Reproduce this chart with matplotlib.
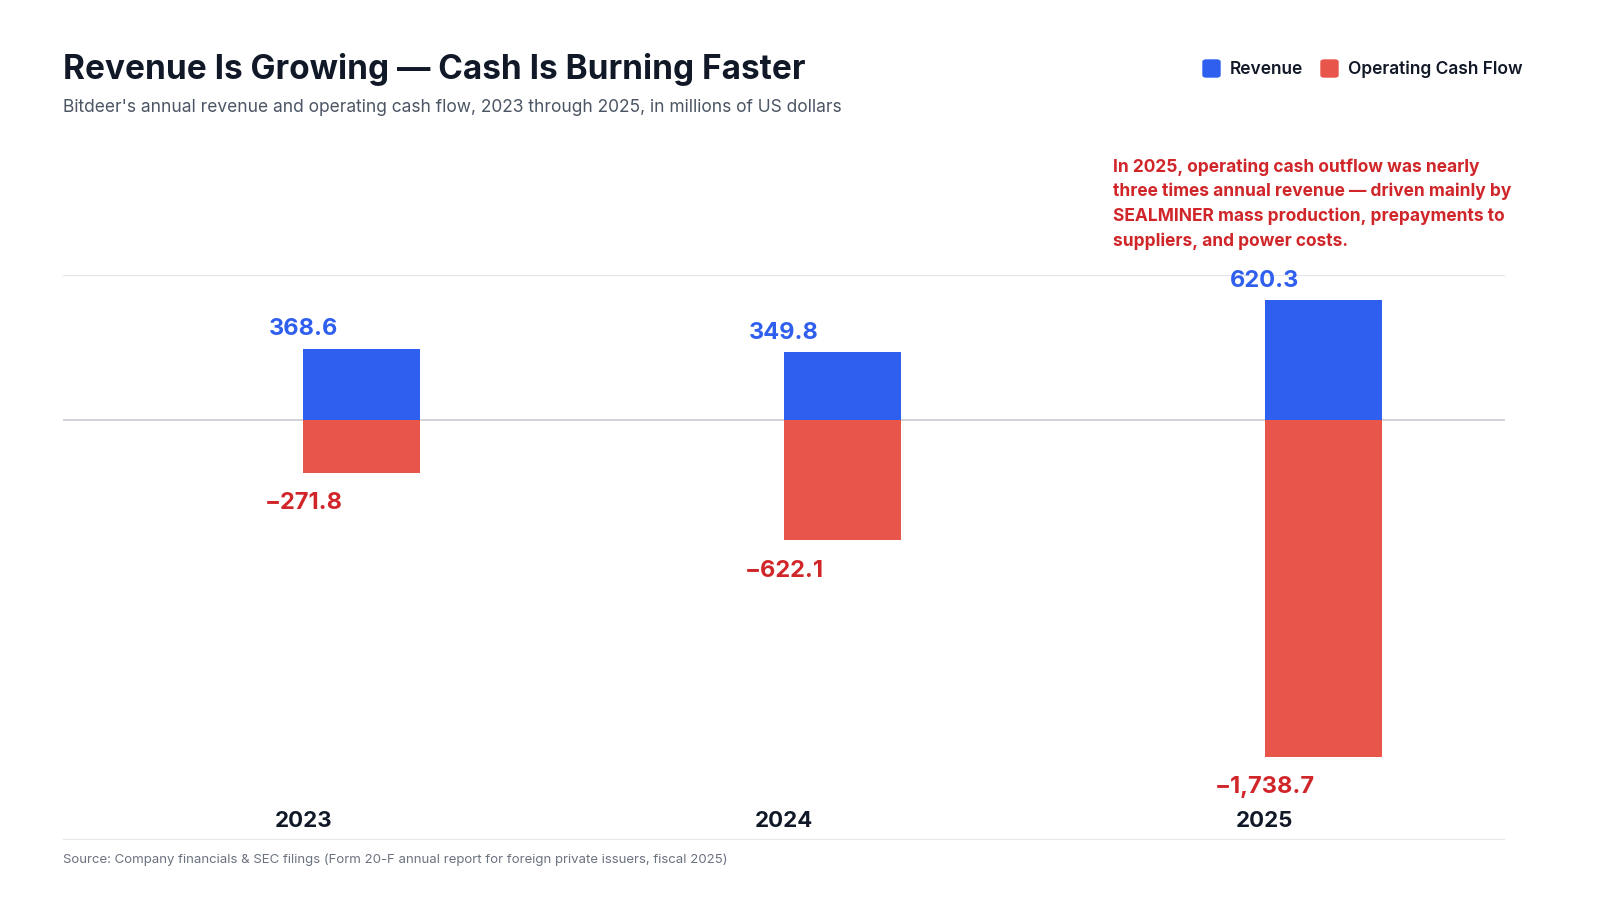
import matplotlib
matplotlib.use("Agg")
import matplotlib.pyplot as plt
from matplotlib.patches import FancyBboxPatch

years = ["2023", "2024", "2025"]
revenue = [368.6, 349.8, 620.3]
cash_flow = [-271.8, -622.1, -1738.7]
rev_labels = ["368.6", "349.8", "620.3"]
cf_labels = ["\u2212271.8", "\u2212622.1", "\u22121,738.7"]

plt.rcParams['font.family'] = ['Inter', 'DejaVu Sans']
BLUE = "#2F5FEF"
RED = "#E8554A"
RED_TXT = "#D0262A"
DARK = "#111827"

fig = plt.figure(figsize=(16, 9), dpi=100)
ax = fig.add_axes([63/1600, 60/900, (1505-63)/1600, (840-275)/900])
ax.set_xlim(-0.5, 2.5)
ax.set_ylim(-2170, 749)
w = 117/481
x = list(range(len(years)))
ax.bar(x, revenue, width=w, align='edge', color=BLUE, zorder=3)
ax.bar(x, cash_flow, width=w, align='edge', color=RED, zorder=3)
for i in x:
    ax.annotate(rev_labels[i], (i, revenue[i]), xytext=(0, 6), textcoords='offset points',
                ha='center', va='bottom', fontsize=17, fontweight='bold', color=BLUE)
    ax.annotate(cf_labels[i], (i, cash_flow[i]), xytext=(0, -14), textcoords='offset points',
                ha='center', va='top', fontsize=17, fontweight='bold', color=RED_TXT)
    ax.text(i, -2070, years[i], ha='center', va='center', fontsize=16, fontweight='bold', color=DARK)
ax.axhline(0, color="#C8CCD2", lw=1.2, zorder=2)
ax.axhline(749, color="#E5E7EB", lw=1, zorder=1)
ax.axhline(-2170, color="#E5E7EB", lw=1.5, zorder=1)
for s in ax.spines.values():
    s.set_visible(False)
ax.set_xticks([]); ax.set_yticks([])

fig.text(63/1600, 1-70/900, "Revenue Is Growing \u2014 Cash Is Burning Faster", fontsize=24,
         fontweight='bold', color=DARK, va='center')
fig.text(63/1600, 1-108/900, "Bitdeer's annual revenue and operating cash flow, 2023 through 2025, in millions of US dollars",
         fontsize=12.5, color="#4B5563", va='center')
fig.text(1113/1600, 1-158/900,
         "In 2025, operating cash outflow was nearly\nthree times annual revenue \u2014 driven mainly by\nSEALMINER mass production, prepayments to\nsuppliers, and power costs.",
         fontsize=12.5, fontweight='bold', color=RED_TXT, va='top', linespacing=1.55)
fig.text(63/1600, 1-860/900,
         "Source: Company financials & SEC filings (Form 20-F annual report for foreign private issuers, fiscal 2025)",
         fontsize=9.5, color="#6B7280", va='center')
# legend
for lx, lab, col in [(1203, "Revenue", BLUE), (1321, "Operating Cash Flow", RED)]:
    fig.patches.append(FancyBboxPatch((lx/1600, 1-77/900), 17/1600, 17/900,
                       boxstyle="round,pad=0,rounding_size=0.002", transform=fig.transFigure,
                       color=col))
    fig.text((lx+27)/1600, 1-69/900, lab, fontsize=12.5, fontweight='semibold', color=DARK, va='center')

fig.savefig("out.png", dpi=100, facecolor='white')
